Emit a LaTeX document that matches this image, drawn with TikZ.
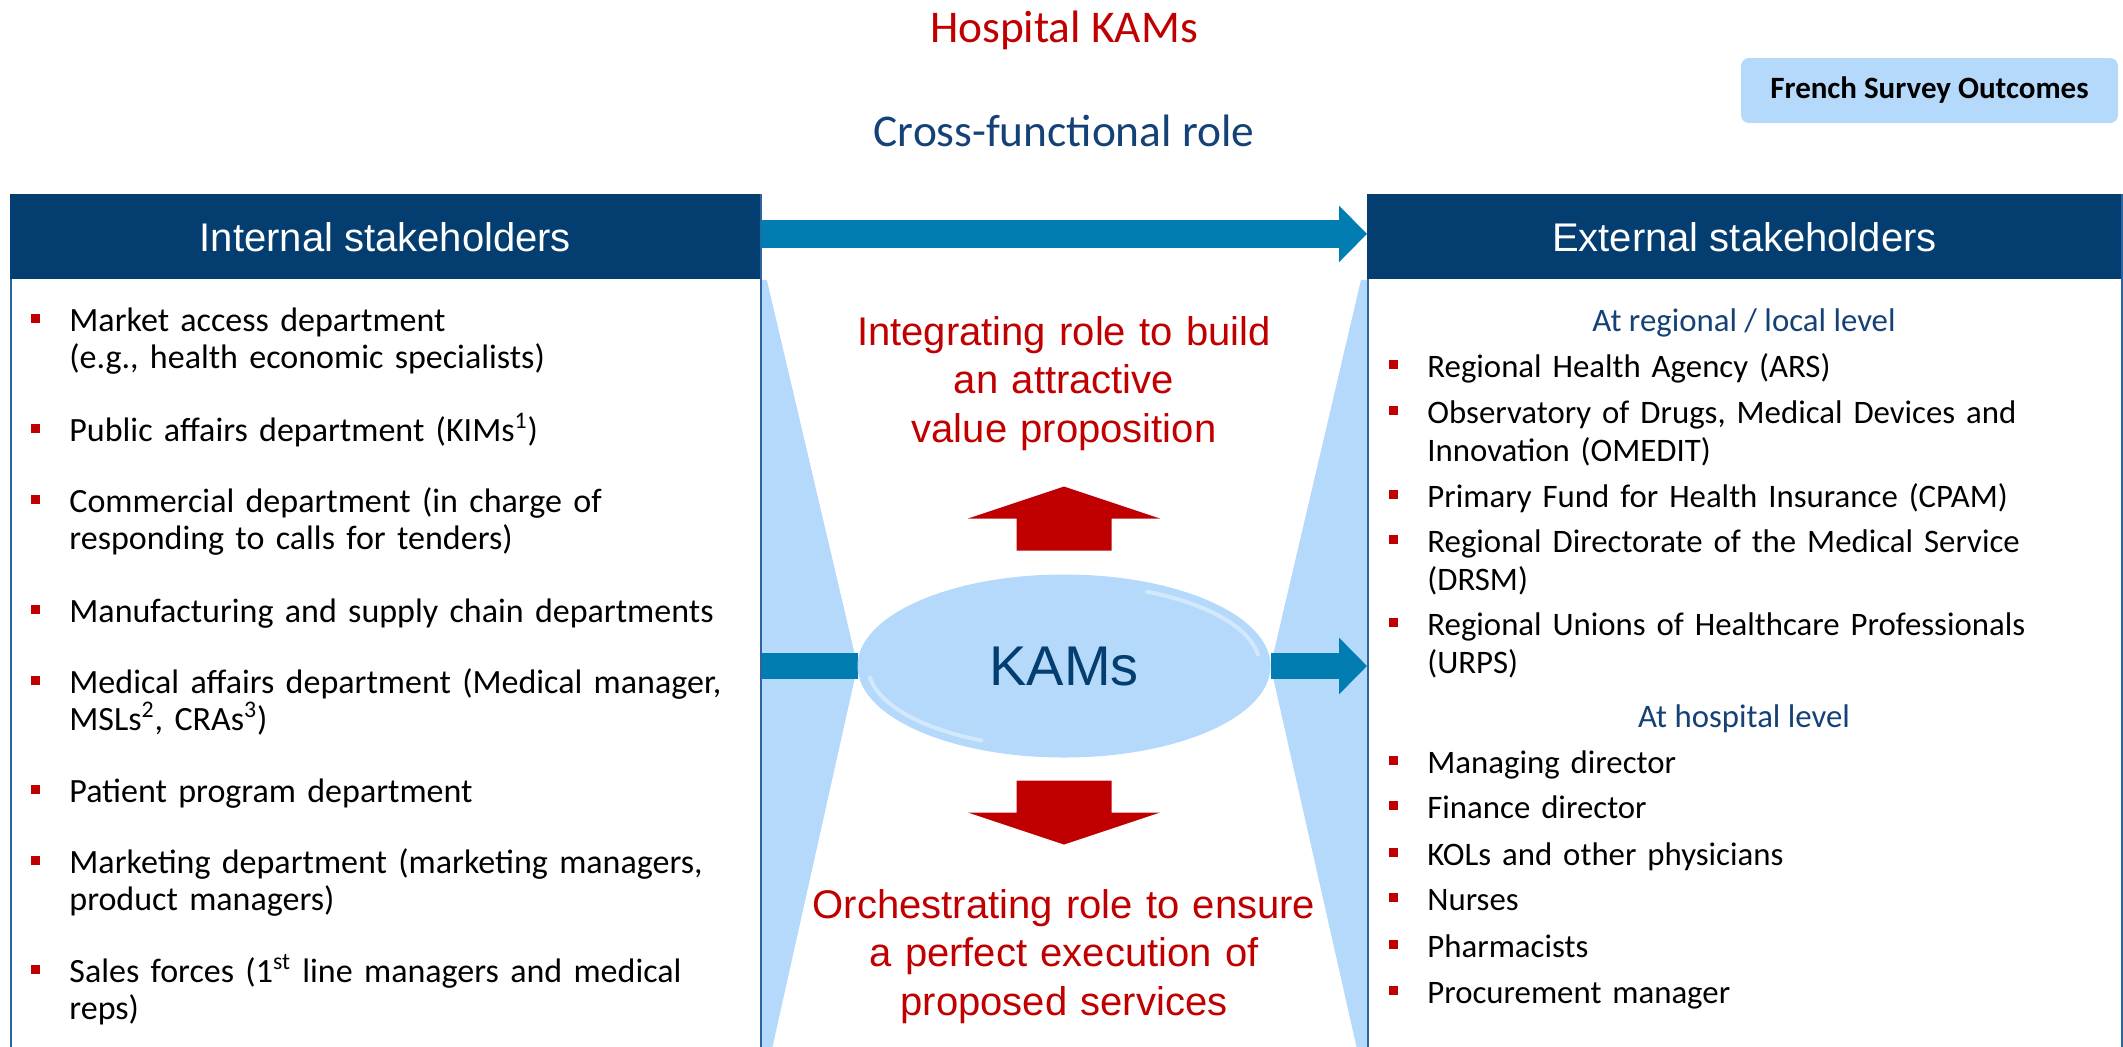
\documentclass[tikz,border=0pt]{standalone}
\usepackage{fontspec}
\setmainfont{Carlito}
\newfontfamily\arialfont{Liberation Sans}
\usetikzlibrary{positioning, arrows.meta, calc, backgrounds, shapes.geometric}
\definecolor{KAMnavy}{RGB}{4, 62, 112}
\definecolor{KAMtitle}{RGB}{20, 66, 118}
\definecolor{KAMteal}{RGB}{2, 125, 178}
\definecolor{KAMlight}{RGB}{180, 217, 250}
\definecolor{KAMred}{RGB}{192, 0, 0}
\definecolor{KAMedge}{RGB}{45, 100, 160}
\tikzset{
  maintitle/.style={anchor=base, text=KAMred, font=\fontsize{22.7}{26}\selectfont},
  subtitle/.style={anchor=base, text=KAMtitle, font=\fontsize{22.7}{26}\selectfont},
  tag/.style={rectangle, rounded corners=4pt, fill=KAMlight, minimum width=188.5pt,
    minimum height=32.5pt, inner sep=0pt, font=\bfseries\fontsize{15.5}{18}\selectfont},
  panel/.style={rectangle, draw=KAMedge, line width=1pt, fill=white, anchor=north west,
    minimum width=#1, minimum height=431pt, inner sep=0pt},
  head/.style={rectangle, fill=KAMnavy, text=white, anchor=north west, minimum width=#1,
    minimum height=42.5pt, inner sep=0pt, font=\arialfont\fontsize{20}{24}\selectfont},
  intentry/.style={anchor=base west, inner sep=0pt, text width=345pt, align=left,
    font=\fontsize{17}{18.5}\selectfont},
  extentry/.style={intentry, font=\fontsize{16.4}{19}\selectfont},
  level/.style={anchor=base, text=KAMtitle, font=\fontsize{16.4}{19}\selectfont},
  bull/.style={rectangle, fill=KAMred, minimum size=4.5pt, inner sep=0pt},
  roletext/.style={anchor=base, text=KAMred, align=center, text width=270pt, inner sep=0pt,
    font=\arialfont\fontsize{20}{24.25}\selectfont},
  kamsell/.style={ellipse, fill=KAMlight, draw=KAMlight, line width=0.5pt,
    minimum width=206pt, minimum height=91pt, inner sep=0pt, text=KAMnavy,
    font=\arialfont\fontsize{28}{30}\selectfont},
  glint/.style={white, opacity=0.4, line width=2pt, line cap=round},
  wedge/.style={fill=KAMlight},
  shaft/.style={KAMteal, line width=13pt},
  flow/.style={KAMteal, line width=#1, -{Triangle[length=14pt, width=27.5pt]}},
  redblock/.style={fill=KAMred},
}
\begin{document}
\begin{tikzpicture}[x=0.5pt, y=-0.5pt]
  \useasboundingbox (0,0) rectangle (2123,1046);
  % titles
  \node[maintitle] (title) at (1064,42) {Hospital KAMs};
  \node[subtitle] (role) at (1064,146) {Cross-functional role};
  \node[tag] (survey) at (1929.5,90.5) {French Survey Outcomes};
  % the two stakeholder panels
  \node[panel=375pt] (intbox) at (10,194) {};
  \node[head=375pt] (inthead) at (10,194) {Internal stakeholders};
  \node[panel=377pt] (extbox) at (1367,194) {};
  \node[head=377pt] (exthead) at (1367,194) {External stakeholders};
  \draw[flow=14pt] ([yshift=1.5pt]inthead.east) -- ([yshift=1.5pt]exthead.west);
  % internal list
  \foreach \y/\txt [count=\i] in {331/{Market access department\\(e.g., health economic specialists)},
      441/{Public affairs department (KIMs\textsuperscript{1})},
      512/{Commercial department (in charge of\\responding to calls for tenders)},
      622/{Manufacturing and supply chain departments},
      693/{Medical affairs department (Medical manager,\\MSLs\textsuperscript{2}, CRAs\textsuperscript{3})},
      802/{Patient program department},
      873/{Marketing department (marketing managers,\\product managers)},
      982/{Sales forces (1\textsuperscript{st} line managers and medical\\reps)}}{
    \node[intentry] (int\i) at (69,\y) {\txt};
    \node[bull, left=14.5pt of int\i.base west, yshift=6.5pt] (intb\i) {};
  }
  % external list
  \node[level] (regional) at (1744,331) {At regional / local level};
  \foreach \y/\txt [count=\i] in {377/{Regional Health Agency (ARS)},
      423/{Observatory of Drugs, Medical Devices and\\Innovation (OMEDIT)},
      507/{Primary Fund for Health Insurance (CPAM)},
      552/{Regional Directorate of the Medical Service\\(DRSM)},
      635/{Regional Unions of Healthcare Professionals\\(URPS)}}{
    \node[extentry] (ext\i) at (1427,\y) {\txt};
    \node[bull, left=14.5pt of ext\i.base west, yshift=6.5pt] (extb\i) {};
  }
  \node[level] (hosplevel) at (1744,727) {At hospital level};
  \foreach \y/\txt [count=\i] in {773/{Managing director}, 818/{Finance director},
      865/{KOLs and other physicians}, 910/{Nurses}, 957/{Pharmacists},
      1003/{Procurement manager}}{
    \node[extentry] (hos\i) at (1427,\y) {\txt};
    \node[bull, left=14.5pt of hos\i.base west, yshift=6.5pt] (hosb\i) {};
  }
  % KAMs in the middle
  \node[kamsell] (kams) at (1064,666) {KAMs};
  \draw[glint] ([shift={(115:196 and 82)}]kams.center) arc[start angle=115, end angle=172, x radius=196, y radius=82];
  \draw[glint] ([shift={(295:196 and 82)}]kams.center) arc[start angle=295, end angle=352, x radius=196, y radius=82];
  \node[roletext] (integ) at (1064,345) {Integrating role to build\\an attractive\\value proposition};
  \node[roletext] (orch) at (1064,918) {Orchestrating role to ensure\\a perfect execution of\\proposed services};
  \fill[redblock] ($(kams.north)+(-47.5,-24)$) -- ++(0,-32) -- ++(-48.5,0) -- ++(96,-32)
    -- ++(96,32) -- ++(-48.5,0) -- ++(0,32) -- cycle;
  \fill[redblock] ($(kams.south)+(-47.5,23)$) -- ++(0,32) -- ++(-48.5,0) -- ++(96,32)
    -- ++(96,-32) -- ++(-48.5,0) -- ++(0,-32) -- cycle;
  \begin{scope}[on background layer]
    \fill[wedge] (inthead.south east) -- ++(6,0) -- (kams.west)
      -- ([xshift=4pt]intbox.south east) -- (intbox.south east) -- cycle;
    \fill[wedge] (exthead.south west) -- ++(-6,0) -- (kams.east)
      -- ([xshift=-4pt]extbox.south west) -- (extbox.south west) -- cycle;
    \draw[shaft] (kams.west -| intbox.east) -- (kams.west);
    \draw[flow=13pt] (kams.east) -- (kams.east -| extbox.west);
  \end{scope}
\end{tikzpicture}
\end{document}
